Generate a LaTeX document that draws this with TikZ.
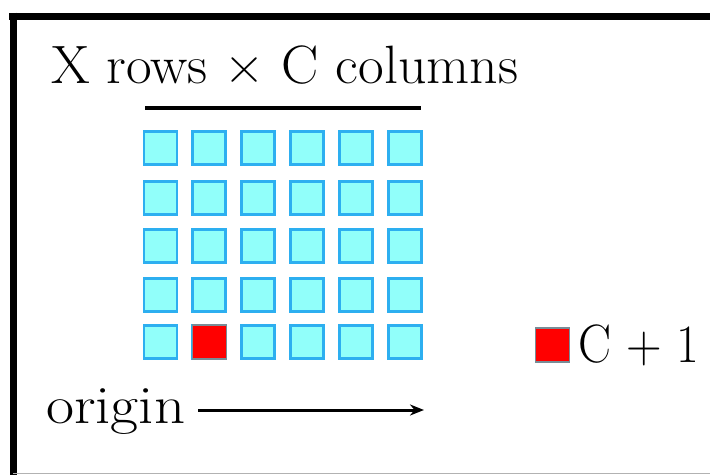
\documentclass[tikz,border=0pt]{standalone}
\usepackage{fontspec}
\usepackage{graphicx}
\usetikzlibrary{arrows.meta}
\definecolor{cellfill}{RGB}{145,255,250}
\definecolor{celledge}{RGB}{45,175,240}
\definecolor{hotfill}{RGB}{255,0,0}
\definecolor{hotedge}{RGB}{120,140,150}
\newcommand{\fitw}[2]{\resizebox{#1}{\height}{#2}}
\tikzset{
  cell/.style={draw=celledge, fill=cellfill, line width=2.6pt, minimum size=33pt, inner sep=0pt},
  hotcell/.style={draw=hotedge, fill=hotfill, line width=1.6pt, minimum size=34pt, inner sep=0pt},
  big/.style={font=\rmfamily\fontsize{54}{60}\selectfont, inner sep=0pt, anchor=base west},
}
\begin{document}
\begin{tikzpicture}[x=1pt,y=-1pt]
\useasboundingbox (0,0) rectangle (710,475);
% frame
\draw[line width=7pt] (9,16) -- (710,16);
\draw[line width=7pt] (13,12.5) -- (13,475);
\draw[line width=1pt, black!30] (13,473.5) -- (710,473.5);
% title
\node[big] (title) at (51,83) {\fitw{467pt}{X rows × C columns}};
\coordinate (barL) at (145,108);
\coordinate (barR) at (421,108);
\draw[line width=4pt] (barL) -- (barR);
% grid
\foreach \c/\x in {1/160.5,2/209,3/258,4/307,5/356,6/405}{
  \foreach \r/\y in {1/148,2/198,3/246,4/295,5/342}{
    \node[cell] (c\r\c) at (\x,\y) {};
  }
}
\node[hotcell] (hot) at (209.5,342) {};
% legend
\node[hotcell] (key) at (552.5,345) {};
\node[big] (cplus) at (578,362) {\fitw{121pt}{C + 1}};
% origin
\node[big] (origin) at (46,423) {\fitw{139pt}{origin}};
\coordinate (arrS) at (198,410);
\coordinate (arrE) at (424,410);
\draw[line width=3pt, -{Stealth[length=14pt,width=11pt]}] (arrS) -- (arrE);
\end{tikzpicture}
\end{document}
